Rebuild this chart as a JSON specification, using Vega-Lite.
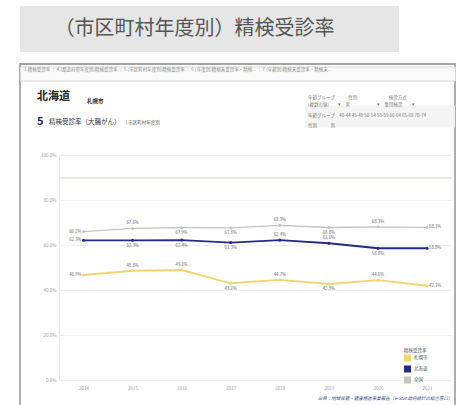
{
  "$schema": "https://vega.github.io/schema/vega-lite/v6.json",
  "padding": {"left": 19, "top": 6, "right": 0, "bottom": 0},
  "background": "#ffffff",
  "config": {
    "view": {"stroke": null},
    "font": "Noto Sans CJK JP",
    "title": {"font": "Noto Sans CJK JP", "anchor": "start", "offset": 0, "fontWeight": "normal"},
    "axis": {"labelFont": "Noto Sans CJK JP", "titleFont": "Noto Sans CJK JP"},
    "legend": {"labelFont": "Noto Sans CJK JP", "titleFont": "Noto Sans CJK JP"}
  },
  "columns": 1,
  "align": "none",
  "spacing": 11,
  "concat": [
    {
      "width": 379,
      "height": 46,
      "view": {"fill": "#e6e6e6", "stroke": null},
      "data": {"values": [{"t": "（市区町村年度別）精検受診率"}]},
      "mark": {"type": "text", "fontSize": 20, "color": "#555555", "dx": -15},
      "encoding": {"text": {"field": "t", "type": "nominal"}}
    },
    {
      "columns": 1,
      "align": "none",
      "spacing": -341.5,
      "concat": [
        {
          "width": 435,
          "height": 342,
          "view": {"stroke": "#a5a5a5", "strokeWidth": 1.8, "fill": null},
          "data": {"values": []},
          "mark": {"type": "point", "opacity": 0}
        },
        {
          "columns": 1,
          "align": "none",
          "spacing": -15,
          "concat": [
            {
              "width": 435,
              "height": 14,
              "view": {"stroke": "#d8d8d8", "strokeWidth": 1, "fill": "#fafafa"},
              "data": {"values": []},
              "mark": {"type": "point", "opacity": 0}
            },
            {
              "title": {
                "text": "1.精検受診率 ｜ 4.(都道府県年度別)精検受診率 ｜ 5.(市区町村年度別)精検受診率 ｜ 6.(年度別)精検未受診率・精検... ｜ 7.(年齢別)精検未受診率・精検未...",
                "fontSize": 4.5,
                "color": "#8a8a8a",
                "dx": 4,
                "offset": 19
              },
              "columns": 1,
              "align": "none",
              "spacing": 4,
              "concat": [
                {
                  "columns": 1,
                  "align": "none",
                  "spacing": -11.5,
                  "concat": [
                    {
                      "spacing": 17,
                      "hconcat": [
                        {
                          "width": 1, "height": 1,
                          "data": {"values": []},
                          "mark": {"type": "point", "opacity": 0},
                          "title": {"text": "北海道", "fontSize": 11, "fontWeight": "bold", "color": "#222222", "dx": 17}
                        },
                        {
                          "width": 201, "height": 1,
                          "data": {"values": []},
                          "mark": {"type": "point", "opacity": 0},
                          "title": {"text": "札幌市", "fontSize": 5.5, "fontWeight": "bold", "color": "#333333", "offset": 1}
                        },
                        {
                          "width": 150, "height": 22,
                          "view": {"fill": "#f4f4f4", "stroke": null},
                          "data": {"values": []},
                          "mark": {"type": "point", "opacity": 0},
                          "title": {
                            "text": ["年齢グループ　　　性別　　　　　　　検診方式", "(複数の値)　　▾　男　　　　　　▾　集団検診　　▾"],
                            "subtitle": ["年齢グループ　40-44  45-49  50-54  55-59  60-64  65-69  70-74", "性別　　　男"],
                            "fontSize": 4.5, "color": "#7a7a7a", "lineHeight": 7,
                            "subtitleFontSize": 4.5, "subtitleColor": "#7a7a7a", "subtitleLineHeight": 10,
                            "subtitlePadding": 7, "dx": 3, "offset": -22
                          }
                        }
                      ]
                    },
                    {
                      "spacing": 5,
                      "hconcat": [
                        {
                          "width": 1, "height": 1,
                          "data": {"values": []},
                          "mark": {"type": "point", "opacity": 0},
                          "title": {"text": "5", "fontSize": 11, "fontWeight": "bold", "color": "#1c2577", "dx": 17, "offset": 20}
                        },
                        {
                          "width": 1, "height": 1,
                          "data": {"values": []},
                          "mark": {"type": "point", "opacity": 0},
                          "title": {"text": "精検受診率（大腸がん）", "fontSize": 6.5, "color": "#333333", "offset": 22}
                        },
                        {
                          "width": 1, "height": 1,
                          "data": {"values": []},
                          "mark": {"type": "point", "opacity": 0},
                          "title": {"text": "| 市区町村年度別", "fontSize": 4.5, "color": "#555555", "offset": 23}
                        }
                      ]
                    }
                  ]
                },
                {
                  "width": 432,
                  "height": 225,
                  "data": {
                    "values": [
                      {"series": "全国", "year": 2014, "rate": 0.662},
                      {"series": "全国", "year": 2015, "rate": 0.676},
                      {"series": "全国", "year": 2016, "rate": 0.679},
                      {"series": "全国", "year": 2017, "rate": 0.678},
                      {"series": "全国", "year": 2018, "rate": 0.689},
                      {"series": "全国", "year": 2019, "rate": 0.680},
                      {"series": "全国", "year": 2020, "rate": 0.683},
                      {"series": "全国", "year": 2021, "rate": 0.681},
                      {"series": "北海道", "year": 2014, "rate": 0.623},
                      {"series": "北海道", "year": 2015, "rate": 0.623},
                      {"series": "北海道", "year": 2016, "rate": 0.624},
                      {"series": "北海道", "year": 2017, "rate": 0.613},
                      {"series": "北海道", "year": 2018, "rate": 0.624},
                      {"series": "北海道", "year": 2019, "rate": 0.610},
                      {"series": "北海道", "year": 2020, "rate": 0.588},
                      {"series": "北海道", "year": 2021, "rate": 0.588},
                      {"series": "札幌市", "year": 2014, "rate": 0.469},
                      {"series": "札幌市", "year": 2015, "rate": 0.488},
                      {"series": "札幌市", "year": 2016, "rate": 0.491},
                      {"series": "札幌市", "year": 2017, "rate": 0.432},
                      {"series": "札幌市", "year": 2018, "rate": 0.447},
                      {"series": "札幌市", "year": 2019, "rate": 0.429},
                      {"series": "札幌市", "year": 2020, "rate": 0.446},
                      {"series": "札幌市", "year": 2021, "rate": 0.421}
                    ]
                  },
                  "layer": [
                    {
                      "data": {"values": [{"level": 0}, {"level": 0.2}, {"level": 0.4}, {"level": 0.6}, {"level": 0.8}, {"level": 1.0}]},
                      "mark": {"type": "rule", "color": "#f0f0f0", "strokeWidth": 1},
                      "encoding": {
                        "x": {"datum": 2013.5, "type": "quantitative"},
                        "x2": {"datum": 2021.509},
                        "y": {"field": "level", "type": "quantitative"}
                      }
                    },
                    {
                      "data": {"values": [{"target": 0.9}]},
                      "mark": {"type": "rule", "color": "#e3c5c8", "strokeWidth": 1.2},
                      "encoding": {
                        "x": {"datum": 2013.5, "type": "quantitative"},
                        "x2": {"datum": 2021.509},
                        "y": {"field": "target", "type": "quantitative"}
                      }
                    },
                    {
                      "transform": [{"filter": "datum.series == '全国'"}],
                      "mark": {"type": "line", "strokeWidth": 1.3},
                      "encoding": {
                        "x": {"field": "year", "type": "quantitative"},
                        "y": {"field": "rate", "type": "quantitative"},
                        "color": {"field": "series", "type": "nominal"}
                      }
                    },
                    {
                      "transform": [{"filter": "datum.series != '全国'"}],
                      "mark": {"type": "line", "strokeWidth": 1.9},
                      "encoding": {
                        "x": {
                          "field": "year", "type": "quantitative",
                          "scale": {"domain": [2012.705, 2021.509], "nice": false, "zero": false},
                          "axis": {
                            "values": [2014, 2015, 2016, 2017, 2018, 2019, 2020, 2021], "format": "d",
                            "labelAngle": 0, "labelFontSize": 4.5, "labelColor": "#9a9a9a", "labelFlush": false,
                            "ticks": false, "domain": false, "grid": false, "labelPadding": 5,
                            "title": "出典：地域保健・健康増進事業報告（e-Stat 政府統計の総合窓口）",
                            "titleFontSize": 4.5, "titleFontStyle": "italic", "titleFontWeight": "normal",
                            "titleColor": "#3b4a8c", "titleAnchor": "end", "titlePadding": 5
                          }
                        },
                        "y": {
                          "field": "rate", "type": "quantitative",
                          "scale": {"domain": [0, 1], "nice": false},
                          "axis": {
                            "values": [0, 0.2, 0.4, 0.6, 0.8, 1.0], "format": ".1%", "title": null,
                            "labelFontSize": 4.5, "labelColor": "#9a9a9a", "ticks": false, "grid": false,
                            "domain": true, "domainColor": "#ebebeb", "offset": -39,
                            "labelPadding": 3
                          }
                        },
                        "color": {
                          "field": "series", "type": "nominal",
                          "scale": {"domain": ["札幌市", "北海道", "全国"], "range": ["#f2d56f", "#25298c", "#c4c4c4"]},
                          "legend": {
                            "title": "精検受診率", "orient": "none", "legendX": 384, "legendY": 342,
                            "symbolType": "square", "symbolSize": 20, "symbolStrokeWidth": 2.5,
                            "titleFontSize": 4.5, "labelFontSize": 4.5, "titleColor": "#555555",
                            "labelColor": "#555555", "titleFontWeight": "normal", "rowPadding": -10,
                            "titlePadding": 2, "labelOffset": 3
                          }
                        }
                      }
                    },
                    {
                      "mark": {"type": "point", "filled": true, "size": 9, "opacity": 1},
                      "encoding": {
                        "x": {"field": "year", "type": "quantitative"},
                        "y": {"field": "rate", "type": "quantitative"},
                        "color": {"field": "series", "type": "nominal"}
                      }
                    },
                    {
                      "transform": [{"filter": "datum.year > 2014 && datum.year < 2021 && indexof(['全国2015','全国2018','全国2020','北海道2018','北海道2019','札幌市2015','札幌市2016','札幌市2018','札幌市2020'], datum.series + datum.year) >= 0"}],
                      "mark": {"type": "text", "fontSize": 4.3, "color": "#666666", "dy": -5},
                      "encoding": {
                        "x": {"field": "year", "type": "quantitative"},
                        "y": {"field": "rate", "type": "quantitative"},
                        "text": {"field": "rate", "type": "quantitative", "format": ".1%"}
                      }
                    },
                    {
                      "transform": [{"filter": "datum.year > 2014 && datum.year < 2021 && indexof(['全国2015','全国2018','全国2020','北海道2018','北海道2019','札幌市2015','札幌市2016','札幌市2018','札幌市2020'], datum.series + datum.year) < 0"}],
                      "mark": {"type": "text", "fontSize": 4.3, "color": "#666666", "dy": 5.5},
                      "encoding": {
                        "x": {"field": "year", "type": "quantitative"},
                        "y": {"field": "rate", "type": "quantitative"},
                        "text": {"field": "rate", "type": "quantitative", "format": ".1%"}
                      }
                    },
                    {
                      "transform": [{"filter": "datum.year == 2014"}],
                      "mark": {"type": "text", "fontSize": 4.3, "color": "#666666", "align": "right", "dx": -2},
                      "encoding": {
                        "x": {"field": "year", "type": "quantitative"},
                        "y": {"field": "rate", "type": "quantitative"},
                        "text": {"field": "rate", "type": "quantitative", "format": ".1%"}
                      }
                    },
                    {
                      "transform": [{"filter": "datum.year == 2021"}],
                      "mark": {"type": "text", "fontSize": 4.3, "color": "#666666", "align": "left", "dx": 2},
                      "encoding": {
                        "x": {"field": "year", "type": "quantitative"},
                        "y": {"field": "rate", "type": "quantitative"},
                        "text": {"field": "rate", "type": "quantitative", "format": ".1%"}
                      }
                    }
                  ]
                }
              ]
            }
          ]
        }
      ]
    }
  ]
}
